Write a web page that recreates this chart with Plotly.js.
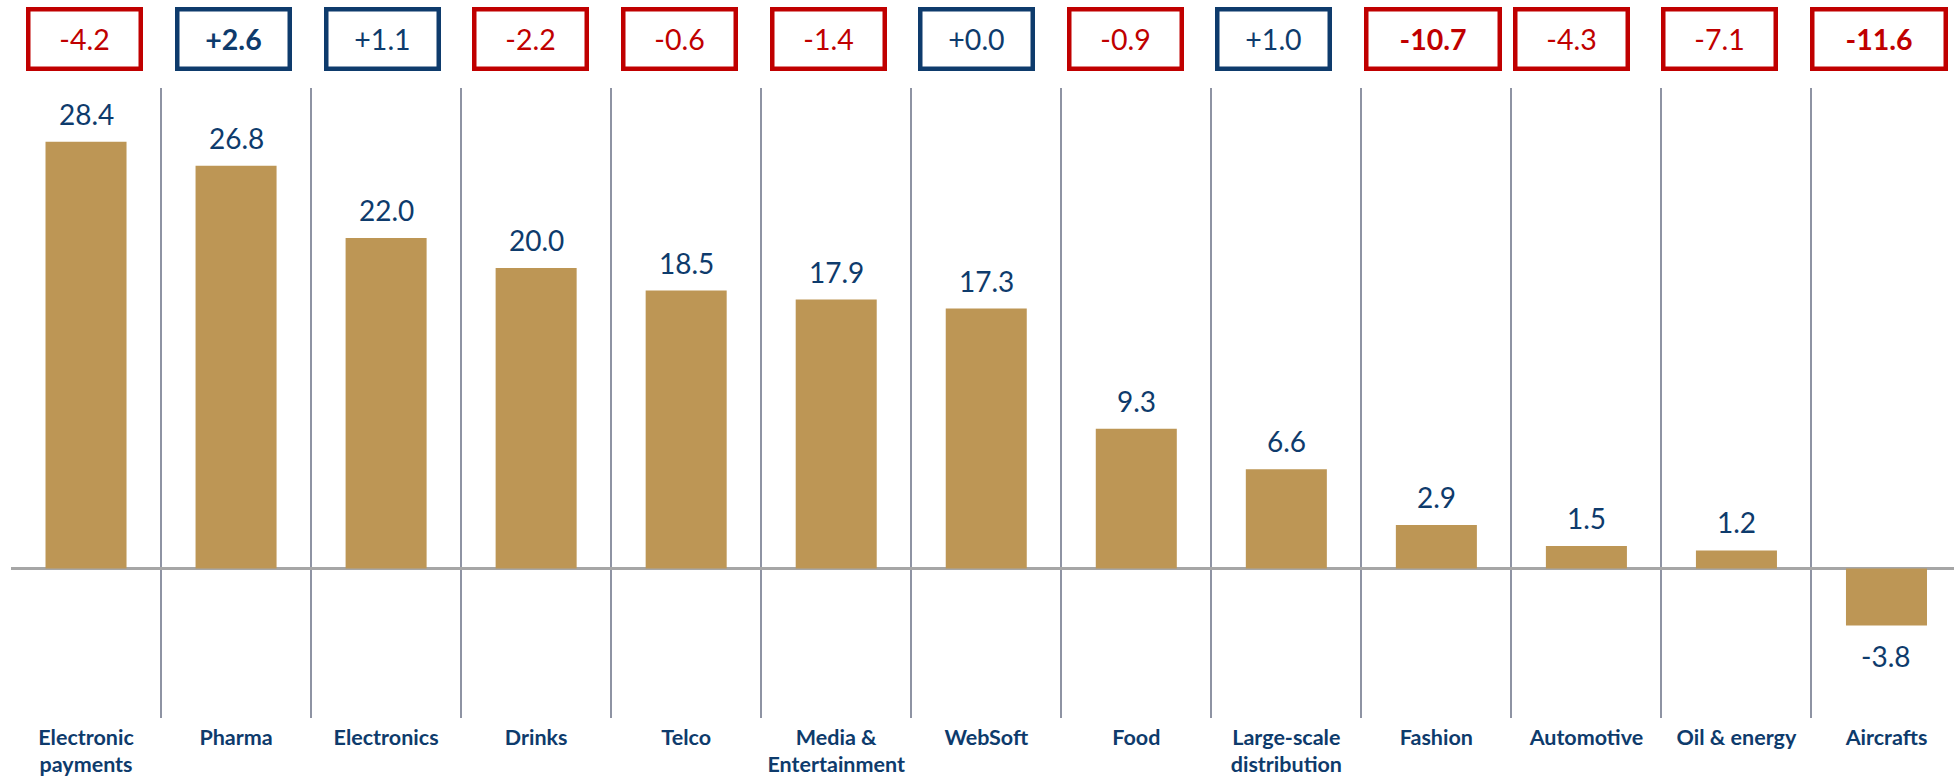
<!DOCTYPE html>
<html>
<head>
<meta charset="utf-8">
<script src="https://cdn.plot.ly/plotly-3.0.1.min.js"></script>
<style>
  html, body { margin: 0; padding: 0; background: #ffffff; }
  #chart { width: 1954px; height: 776px; }
</style>
</head>
<body>
<div id="chart"></div>
<script>
// ---- data ----
const categories = ["Electronic payments", "Pharma", "Electronics", "Drinks", "Telco",
  "Media & Entertainment", "WebSoft", "Food", "Large-scale distribution", "Fashion",
  "Automotive", "Oil & energy", "Aircrafts"];
const tickLabels = ["Electronic<br>payments", "Pharma", "Electronics", "Drinks", "Telco",
  "Media &amp;<br>Entertainment", "WebSoft", "Food", "Large-scale<br>distribution", "Fashion",
  "Automotive", "Oil &amp; energy", "Aircrafts"];
const values = [28.4, 26.8, 22.0, 20.0, 18.5, 17.9, 17.3, 9.3, 6.6, 2.9, 1.5, 1.2, -3.8];
const changes = [-4.2, 2.6, 1.1, -2.2, -0.6, -1.4, 0.0, -0.9, 1.0, -10.7, -4.3, -7.1, -11.6];
const emphasised = [false, true, false, false, false, false, false, false, false, true, false, false, true];

// ---- styles ----
const GOLD = "#BD9655";
const NAVY = "#0E3B6C";
const RED = "#C00000";
const VALUE_FONT = "Lato, 'Liberation Sans', sans-serif";

const fmtVal = v => v.toFixed(1);
const fmtChg = v => (v >= 0 ? "+" : "") + v.toFixed(1);

const annotations = [];
// value labels
values.forEach((v, i) => {
  annotations.push({
    x: categories[i], y: v, xref: "x", yref: "y",
    text: fmtVal(v), showarrow: false,
    yanchor: "middle", yshift: v >= 0 ? 28 : -30,
    font: { family: VALUE_FONT, size: 28, color: NAVY }
  });
});
// change boxes
changes.forEach((c, i) => {
  const col = c >= 0 ? NAVY : RED;
  const wide = emphasised[i] && c < 0;
  const outerW = wide ? 138 : 117;
  const bw = 4.5;
  annotations.push({
    x: categories[i], y: 1.077, xref: "x", yref: "paper",
    text: emphasised[i] ? "<b>" + fmtChg(c) + "</b>" : fmtChg(c),
    showarrow: false,
    xanchor: "center", yanchor: "middle",
    xshift: outerW / 2 - 59.7 - 1.4 * i,
    width: outerW - 2 * bw, height: 64 - 2 * bw,
    borderwidth: bw, borderpad: 0, bordercolor: col,
    bgcolor: "rgba(255,255,255,0)",
    font: { family: VALUE_FONT, size: 28.5, color: col }
  });
});

const trace = {
  type: "bar",
  x: categories,
  y: values,
  width: 0.54,
  marker: { color: GOLD, line: { width: 0 } },
  hoverinfo: "skip"
};

const layout = {
  width: 1954, height: 776,
  margin: { l: 11.4, r: 0, t: 88, b: 58.3, pad: 0 },
  paper_bgcolor: "#ffffff",
  plot_bgcolor: "#ffffff",
  showlegend: false,
  bargap: 0.46,
  xaxis: {
    type: "category",
    range: [-0.5, 12.45],
    tickmode: "array",
    tickvals: categories,
    ticktext: tickLabels,
    tickson: "boundaries",
    tickangle: 0,
    ticks: "",
    ticklabelstandoff: 4,
    showgrid: true,
    gridcolor: "#8E93A3",
    gridwidth: 2,
    showline: false,
    zeroline: false,
    fixedrange: true,
    automargin: false,
    tickfont: { family: "Lato, 'Liberation Sans', sans-serif", size: 21.5, color: NAVY, weight: "bold" }
  },
  yaxis: {
    range: [-9.95, 31.98],
    showgrid: false,
    showticklabels: false,
    ticks: "",
    zeroline: true,
    zerolinecolor: "#A6A6A6",
    zerolinewidth: 2.5,
    showline: false,
    fixedrange: true
  },
  annotations: annotations
};

Plotly.newPlot("chart", [trace], layout, { displayModeBar: false, staticPlot: true });
</script>
</body>
</html>
